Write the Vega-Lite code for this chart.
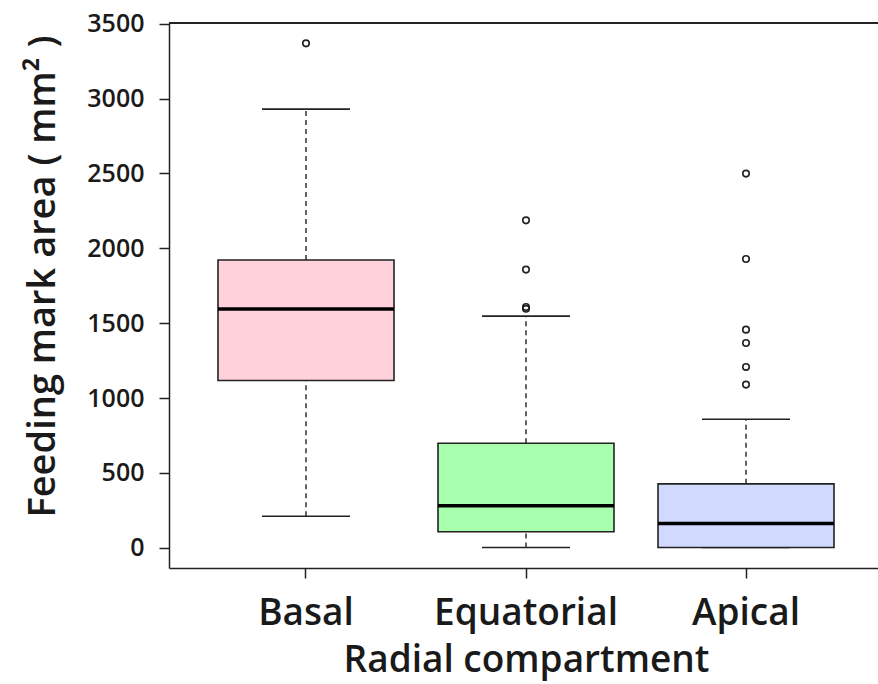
{
  "$schema": "https://vega.github.io/schema/vega-lite/v6.json",
  "autosize": {"type": "none"},
  "padding": {"left": 169, "top": 23, "right": 0, "bottom": 116},
  "width": 709,
  "height": 545,
  "background": "white",
  "config": {
    "view": {"stroke": null},
    "font": "Open Sans",
    "axis": {"domainColor": "#222", "domainWidth": 1.5, "tickColor": "#222", "tickWidth": 1.5, "labelColor": "#1a1a1a", "titleColor": "#1a1a1a", "labelFontWeight": 600, "titleFontWeight": 600, "grid": false, "labelLimit": 0}
  },
  "datasets": {
    "stats": [
      {"compartment": "Basal", "lower": 211, "q1": 1117, "median": 1595, "q3": 1922, "upper": 2930},
      {"compartment": "Equatorial", "lower": 2, "q1": 107, "median": 280, "q3": 698, "upper": 1547},
      {"compartment": "Apical", "lower": 2, "q1": 2, "median": 162, "q3": 427, "upper": 858}
    ],
    "outliers": [
      {"compartment": "Basal", "value": 3369},
      {"compartment": "Equatorial", "value": 2187},
      {"compartment": "Equatorial", "value": 1858},
      {"compartment": "Equatorial", "value": 1608},
      {"compartment": "Equatorial", "value": 1596},
      {"compartment": "Apical", "value": 2499},
      {"compartment": "Apical", "value": 1929},
      {"compartment": "Apical", "value": 1457},
      {"compartment": "Apical", "value": 1368},
      {"compartment": "Apical", "value": 1208},
      {"compartment": "Apical", "value": 1090}
    ]
  },
  "data": {"name": "stats"},
  "encoding": {
    "x": {
      "field": "compartment", "type": "nominal",
      "sort": ["Basal", "Equatorial", "Apical"],
      "scale": {"range": [0, 714], "paddingInner": 0.2, "paddingOuter": 0.2227},
      "axis": {"title": "Radial compartment", "labelAngle": 0, "labelFontSize": 37, "titleFontSize": 37, "tickSize": 10, "labelPadding": 17, "titlePadding": 11}
    }
  },
  "layer": [
    {
      "mark": {"type": "rule", "strokeDash": [5, 4], "color": "#222", "strokeWidth": 1.4},
      "encoding": {
        "y": {"field": "q3", "type": "quantitative", "scale": {"domain": [-135, 3505], "nice": false, "zero": false},
          "axis": {"title": "Feeding mark area ( mm² )", "values": [0, 500, 1000, 1500, 2000, 2500, 3000, 3500], "format": "d", "labelFontSize": 25, "titleFontSize": 38, "tickSize": 10, "labelPadding": 15, "titleX": -107, "titleY": 253}},
        "y2": {"field": "upper"}
      }
    },
    {
      "mark": {"type": "rule", "strokeDash": [5, 4], "color": "#222", "strokeWidth": 1.4},
      "encoding": {
        "y": {"field": "lower", "type": "quantitative"},
        "y2": {"field": "q1"}
      }
    },
    {
      "mark": {"type": "tick", "color": "#222", "opacity": 1, "size": 88, "thickness": 1.6},
      "encoding": {"y": {"field": "upper", "type": "quantitative"}}
    },
    {
      "mark": {"type": "tick", "color": "#222", "opacity": 1, "size": 88, "thickness": 1.6},
      "encoding": {"y": {"field": "lower", "type": "quantitative"}}
    },
    {
      "mark": {"type": "bar", "stroke": "#222", "strokeWidth": 1.6},
      "encoding": {
        "y": {"field": "q1", "type": "quantitative"},
        "y2": {"field": "q3"},
        "fill": {"field": "compartment", "type": "nominal", "legend": null,
          "scale": {"domain": ["Basal", "Equatorial", "Apical"], "range": ["#FFD1DB", "#A8FFAE", "#D2D9FF"]}}
      }
    },
    {
      "mark": {"type": "tick", "color": "black", "opacity": 1, "size": 176, "thickness": 3.5},
      "encoding": {"y": {"field": "median", "type": "quantitative"}}
    },
    {
      "data": {"name": "outliers"},
      "mark": {"type": "point", "shape": "circle", "filled": false, "opacity": 1, "stroke": "#222", "strokeWidth": 1.6, "size": 42},
      "encoding": {"y": {"field": "value", "type": "quantitative"}}
    },
    {
      "mark": {"type": "rule", "color": "#222", "strokeWidth": 1.5},
      "encoding": {"y": {"datum": 3505}, "x": {"value": 0}, "x2": {"value": 714}}
    }
  ]
}
